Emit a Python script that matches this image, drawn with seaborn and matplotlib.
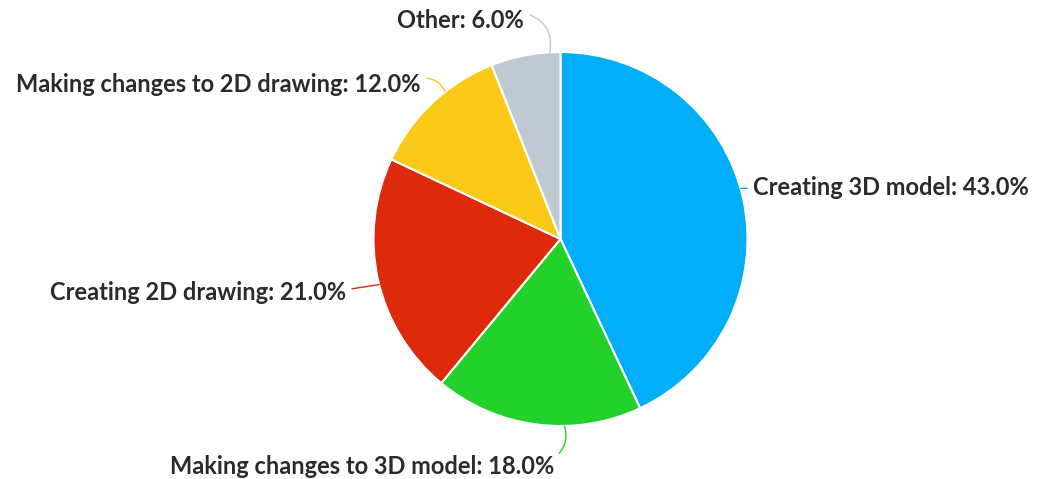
import numpy as np
import matplotlib
matplotlib.use("Agg")
import matplotlib.pyplot as plt
import seaborn as sns

categories = ["Creating 3D model", "Making changes to 3D model", "Creating 2D drawing",
              "Making changes to 2D drawing", "Other"]
values = [43.0, 18.0, 21.0, 12.0, 6.0]
colors = ["#03AEF9", "#22D12A", "#DD2A0A", "#FBC918", "#BFC9D3"]

sns.set_theme(style="white")
plt.rcParams["font.family"] = ["Lato", "DejaVu Sans"]

W, H = 1040, 479
fig = plt.figure(figsize=(W / 100, H / 100), dpi=100)
ax = fig.add_axes([0, 0, 1, 1])

cx, cy, R = 560.5, H - 239, 187
wedges, _ = ax.pie(values, colors=colors, startangle=90, counterclock=False,
                   center=(cx, cy), radius=R,
                   wedgeprops=dict(edgecolor="white", linewidth=1.5))
ax.set_xlim(0, W)
ax.set_ylim(0, H)
ax.set_aspect("equal")
ax.axis("off")

# label layout: (text x, text y in pixels, ha, anchor fraction within wedge, curvature, relpos)
layout = [
    (753, 187, "left", 0.52, 0.0, (0.0, 0.45)),
    (554, 466, "right", 0.63, 0.35, (1.0, 0.85)),
    (346, 292, "right", 0.52, 0.0, (1.0, 0.6)),
    (421, 84, "right", 0.38, -0.35, (1.0, 0.75)),
    (524, 20, "right", 0.15, -0.45, (1.0, 0.8)),
]

for w, cat, val, col, (tx, ty, ha, frac, rad, rp) in zip(wedges, categories, values, colors, layout):
    th = np.deg2rad(w.theta1 + (w.theta2 - w.theta1) * frac)
    px, py = cx + R * np.cos(th), cy + R * np.sin(th)
    ax.annotate(f"{cat}: {val:.1f}%", xy=(px, py), xytext=(tx, H - ty),
                ha=ha, va="center", fontsize=17, fontweight="bold", color="#2b2b2b",
                arrowprops=dict(arrowstyle="-", color=col, lw=1.0, relpos=rp,
                                shrinkA=2, shrinkB=0,
                                connectionstyle=f"arc3,rad={rad}"))

fig.savefig("out.png", dpi=100, facecolor="white")
